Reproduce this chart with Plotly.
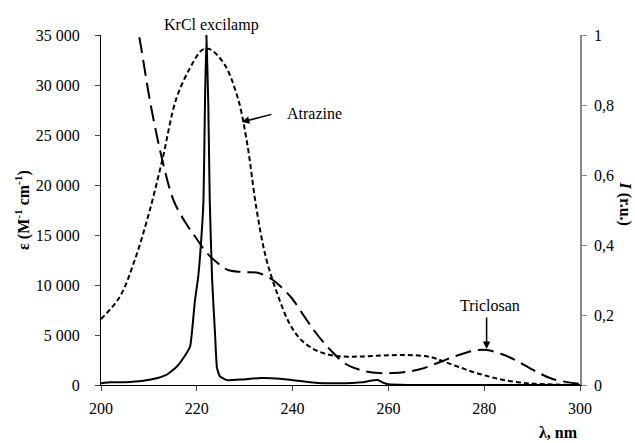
import plotly.graph_objects as go

# Atrazine absorption (short dash), left axis
wl_atr = [200, 203.9, 206.9, 209.8, 212.8, 215.7, 218.7, 221.1, 222.6, 225.6, 228.5, 230.5,
          232.4, 234.4, 236.9, 239.3, 241.8, 245.2, 249.2, 254.1, 259, 263.9, 268.8, 271.8,
          274.7, 277.7, 280.6, 283.6, 287.5, 291.4, 300]
atr = [6600, 8800, 12300, 16800, 22500, 28600, 31800, 33500, 33600, 32200, 28800, 24200,
       17800, 12800, 9000, 6200, 4500, 3400, 2900, 2850, 2950, 3000, 2800, 2300, 1800,
       1300, 900, 550, 250, 100, 0]

# Triclosan absorption (long dash), left axis
wl_tri = [206.9, 207.9, 210.3, 212.8, 215.2, 217.7, 219.7, 222.1, 224.6, 226.5, 229.5, 232.9,
          235.9, 237.8, 239.8, 242.8, 245.2, 247.7, 251.1, 254.1, 258, 260.9, 263.9, 266.8,
          270.8, 274.7, 278.6, 280.6, 283.6, 286.5, 290.9, 294.3, 300]
tri = [37000, 35000, 28200, 22500, 18400, 16200, 14800, 13200, 12100, 11500, 11300, 11200,
       10500, 9700, 8700, 6600, 5000, 3600, 2100, 1500, 1200, 1200, 1330, 1600, 2300, 3000,
       3500, 3500, 3100, 2500, 1330, 600, 100]

# KrCl excilamp emission (solid), right axis
wl_lamp = [200, 202, 204.9, 208.8, 211.8, 213.8, 215.8, 217.2, 218.6, 219.6, 220.3, 221.0,
           221.4, 221.7, 222, 222.4, 222.7, 223.2, 223.8, 224.2, 224.8, 226.3, 229.5,
           233.4, 237.4, 241.3, 245.2, 249.2, 254.6, 256.5, 257.8, 259, 260, 263.9, 300]
lamp = [0.005, 0.008, 0.008, 0.012, 0.02, 0.03, 0.052, 0.077, 0.11, 0.24, 0.31, 0.43,
        0.53, 0.8, 1.0, 0.8, 0.53, 0.3, 0.148, 0.05, 0.025, 0.014, 0.016, 0.02, 0.018, 0.012,
        0.006, 0.005, 0.008, 0.013, 0.014, 0.006, 0.002, 0, 0]

x_ticks = [200, 220, 240, 260, 280, 300]
y_ticks = [0, 5000, 10000, 15000, 20000, 25000, 30000, 35000]
y_ticktext = ["0", "5 000", "10 000", "15 000", "20 000", "25 000", "30 000", "35 000"]
y2_ticks = [0, 0.2, 0.4, 0.6, 0.8, 1]
y2_ticktext = ["0", "0,2", "0,4", "0,6", "0,8", "1"]

FONT = "Liberation Serif"

fig = go.Figure()
fig.add_trace(go.Scatter(x=wl_atr, y=atr, mode="lines",
                         line=dict(color="black", width=2, dash="5px,3px", shape="spline", smoothing=1)))
fig.add_trace(go.Scatter(x=wl_tri, y=tri, mode="lines",
                         line=dict(color="black", width=2, dash="16px,7px", shape="spline", smoothing=1)))
fig.add_trace(go.Scatter(x=wl_lamp, y=lamp, mode="lines", yaxis="y2",
                         line=dict(color="black", width=2, shape="spline", smoothing=0.4)))

fig.update_layout(
    width=635, height=443,
    margin=dict(l=101, r=55, t=35, b=58),
    paper_bgcolor="white", plot_bgcolor="white",
    showlegend=False,
    font=dict(family=FONT, size=16, color="black"),
    xaxis=dict(range=[200, 300], tickvals=x_ticks, ticks="outside", ticklen=5,
               showline=True, linecolor="black", linewidth=1, showgrid=False, zeroline=False,
               ticklabelstandoff=4, tickfont=dict(family=FONT, size=16)),
    yaxis=dict(range=[0, 35000], tickvals=y_ticks, ticktext=y_ticktext, ticks="outside",
               ticklen=5, showline=True, linecolor="black", linewidth=1, showgrid=False,
               zeroline=False, ticklabelstandoff=12, tickfont=dict(family=FONT, size=16)),
    yaxis2=dict(range=[0, 1], tickvals=y2_ticks, ticktext=y2_ticktext, overlaying="y",
                side="right", ticks="outside", ticklen=5, tickcolor="#888888",
                showline=True, linecolor="#888888", linewidth=1.5, showgrid=False,
                zeroline=False, ticklabelstandoff=4, tickfont=dict(family=FONT, size=16)),
)

# KrCl label
fig.add_annotation(x=223, y=1.029, xref="x", yref="paper", text="KrCl excilamp",
                   showarrow=False, yanchor="middle", font=dict(family=FONT, size=16))
# Atrazine arrow and label
fig.add_annotation(x=229.4, y=26300, xref="x", yref="y", ax=235.9, ay=27100,
                   axref="x", ayref="y", text="", showarrow=True, arrowhead=2,
                   arrowsize=1, arrowwidth=1.5, arrowcolor="black")
fig.add_annotation(x=238.4, y=27200, xref="x", yref="y", text="Atrazine",
                   showarrow=False, xanchor="left", font=dict(family=FONT, size=16))
# Triclosan arrow and label
fig.add_annotation(x=280.5, y=3600, xref="x", yref="y", ax=280.5, ay=6900,
                   axref="x", ayref="y", text="", showarrow=True, arrowhead=2,
                   arrowsize=1, arrowwidth=1.5, arrowcolor="black")
fig.add_annotation(x=281.2, y=8000, xref="x", yref="y", text="Triclosan",
                   showarrow=False, font=dict(family=FONT, size=16))
# Axis titles
fig.add_annotation(xref="paper", yref="paper", x=-0.165, y=0.5, xanchor="center", yanchor="middle",
                   text="<b>ε (M<sup>-1</sup> cm<sup>-1</sup>)</b>",
                   showarrow=False, textangle=-90, font=dict(family=FONT, size=16))
fig.add_annotation(xref="paper", yref="paper", x=1.093, y=0.52, xanchor="center", yanchor="middle",
                   text="<b><i>I</i> (r.u.)</b>",
                   showarrow=False, textangle=90, font=dict(family=FONT, size=16))
fig.add_annotation(xref="paper", yref="paper", x=1.0, y=-0.137, text="<b>λ, nm</b>",
                   showarrow=False, xanchor="right", yanchor="middle",
                   font=dict(family=FONT, size=16))

fig.write_html("out.html")
